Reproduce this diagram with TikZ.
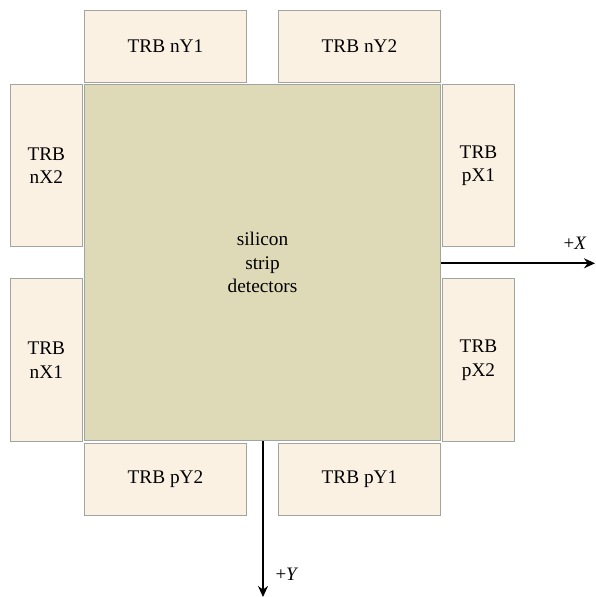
\documentclass[tikz,border=0pt]{standalone}
\usepackage{fontspec}
\setmainfont{Liberation Serif}
\usetikzlibrary{arrows.meta}

\definecolor{trbfill}{HTML}{FBF1E3}
\definecolor{sifill}{HTML}{DEDAB8}
\definecolor{edgegray}{HTML}{A0A69F}

\begin{document}
\begin{tikzpicture}[
  x = 1pt, y = -1pt,
  every node/.style = {font=\fontsize{19.3}{23.4}\selectfont, inner sep=0pt, align=center},
  trb/.style = {draw=edgegray, fill=trbfill, line width=1pt},
  trbh/.style = {trb, minimum width=162pt, minimum height=72.5pt},
  trbv/.style = {trb, minimum width=72.5pt, minimum height=162.5pt},
  axis/.style = {line width=2pt, -{Stealth[length=11pt, width=10pt]}},
  axlabel/.style = {font=\fontsize{19}{23}\selectfont},
]
\useasboundingbox (0,0) rectangle (595,597);

\node[draw=edgegray, fill=sifill, line width=1.2pt,
      minimum width=356pt, minimum height=356pt] (si) at (262.5, 262.5)
  {silicon\\strip\\detectors};

\foreach \n/\x/\y/\t in {nY1/165.5/46.3/TRB nY1, nY2/359.5/46.3/TRB nY2,
                         pY2/165.5/479.5/TRB pY2, pY1/359.5/479.5/TRB pY1}
  \node[trbh] (\n) at (\x, \y) {\t};

\foreach \n/\x/\y/\t in {nX2/46.3/165.6/TRB\\nX2, nX1/46.3/360.2/TRB\\nX1,
                         pX1/478.5/165.6/TRB\\pX1, pX2/478.5/360.2/TRB\\pX2}
  \node[trbv] (\n) at (\x, \y) {\t};

\coordinate (xend) at (595, 263.3);
\coordinate (yend) at (263, 597);

\draw[axis] (si.east |- xend) -- (xend);
\draw[axis] (si.south -| yend) -- (yend);

\node[axlabel] (xlab) at (575, 243) {+\textit{X}};
\node[axlabel] (ylab) at (287, 574) {+\textit{Y}};

\end{tikzpicture}
\end{document}
